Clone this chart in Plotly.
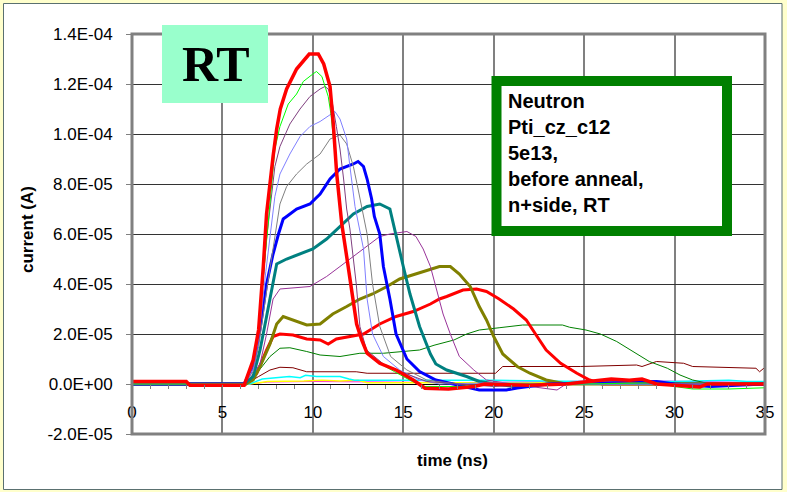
import plotly.graph_objects as go

# ---------------- data (time in ns, current in A) ----------------
t_red1 = [0, 3, 3.2, 6.2, 6.7, 7.0, 7.26, 7.44, 7.8, 8.0, 8.2, 8.55, 9.1, 9.8, 10.3, 10.6, 10.95, 11.13, 11.32,
          11.6, 11.87, 12.15, 12.42, 12.7, 13.0, 13.7, 14.6, 15.55, 16.2, 17.5, 18.9, 19.5, 22, 24, 25.5, 26.5,
          27.5, 28.2, 29, 31.4, 31.8, 33, 35]
i_red1 = [0.1e-5, 0.1e-5, -0.05e-5, -0.05e-5, 0.96e-5, 2.16e-5, 4.7e-5, 6.8e-5, 9.1e-5, 10.2e-5, 11.0e-5, 11.8e-5,
          12.6e-5, 13.2e-5, 13.2e-5, 12.8e-5, 11.9e-5, 10.4e-5, 8.4e-5, 6.4e-5, 5.1e-5, 3.6e-5, 2.4e-5, 1.76e-5,
          1.23e-5, 0.83e-5, 0.56e-5, 0.16e-5, -0.17e-5, -0.2e-5, -0.1e-5, 0.0, -0.05e-5, 0.0, 0.1e-5, 0.2e-5,
          0.15e-5, 0.2e-5, 0.0, -0.12e-5, 0.0, 0.0, 0.0]

t_lime = [0, 6.2, 6.7, 7.0, 7.3, 7.6, 7.9, 8.18, 8.64, 9.1, 9.47, 10.0, 10.2, 10.5, 10.85, 11.0, 11.3, 11.6, 12.0,
          12.4, 12.8, 13.5, 14.5, 15.5, 16.2, 18, 20, 25, 29, 30, 31, 33, 35]
i_lime = [0.0, 0.0, 0.9e-5, 2.1e-5, 4.6e-5, 7.0e-5, 9.4e-5, 10.3e-5, 11.2e-5, 11.6e-5, 12.1e-5, 12.4e-5, 12.5e-5,
          12.3e-5, 11.5e-5, 10.8e-5, 8.5e-5, 6.5e-5, 4.5e-5, 2.5e-5, 1.5e-5, 0.9e-5, 0.5e-5, 0.1e-5, -0.1e-5,
          -0.1e-5, 0.0, 0.0, 0.05e-5, -0.1e-5, -0.2e-5, -0.2e-5, -0.15e-5]

t_plum = [0, 6.2, 6.7, 7.0, 7.44, 7.9, 8.18, 8.73, 9.29, 9.84, 10.4, 10.67, 10.85, 11.04, 11.3, 11.5, 11.7, 11.87,
          12.05, 12.2, 12.4, 12.6, 12.97, 13.9, 15.2, 16.3, 18, 20, 23, 26, 30, 35]
i_plum = [0.0, 0.0, 0.7e-5, 2.0e-5, 5.8e-5, 8.7e-5, 9.5e-5, 10.4e-5, 11.0e-5, 11.5e-5, 11.8e-5, 11.9e-5, 11.8e-5,
          11.4e-5, 10.3e-5, 9.4e-5, 8.2e-5, 7.0e-5, 6.2e-5, 5.2e-5, 4.0e-5, 2.3e-5, 1.36e-5, 0.8e-5, 0.4e-5,
          0.1e-5, 0.0, -0.1e-5, 0.0, 0.1e-5, 0.0, 0.0]

t_lblue = [0, 6.2, 6.7, 7.0, 7.4, 7.9, 8.18, 8.73, 9.29, 9.84, 10.4, 11.0, 11.22, 11.5, 11.87, 12.05, 12.33, 12.8,
           13.0, 13.3, 13.9, 14.8, 15.9, 17, 20, 25, 35]
i_lblue = [0.0, 0.0, 0.6e-5, 1.8e-5, 4.5e-5, 7.5e-5, 8.4e-5, 9.2e-5, 9.9e-5, 10.3e-5, 10.5e-5, 10.8e-5, 10.9e-5,
           10.6e-5, 9.8e-5, 8.7e-5, 7.1e-5, 5.4e-5, 3.4e-5, 2.0e-5, 1.1e-5, 0.56e-5, 0.16e-5, 0.0, 0.05e-5, 0.0, 0.0]

t_gray = [0, 6.2, 6.7, 7.0, 7.5, 8.18, 8.55, 9.1, 9.66, 10.4, 10.95, 11.5, 11.87, 12.24, 12.5, 12.8, 13.0, 13.3,
          13.7, 14.3, 15.2, 16.3, 18, 22, 35]
i_gray = [0.0, 0.0, 0.5e-5, 1.5e-5, 4.0e-5, 7.2e-5, 7.9e-5, 8.4e-5, 8.8e-5, 9.2e-5, 9.8e-5, 9.96e-5, 9.6e-5,
          8.7e-5, 7.8e-5, 6.7e-5, 6.0e-5, 4.0e-5, 2.3e-5, 1.1e-5, 0.56e-5, 0.16e-5, 0.0, 0.0, 0.0]

t_blue = [0, 6.2, 6.7, 7.1, 7.44, 7.8, 8.1, 8.36, 8.55, 9.1, 9.84, 10.4, 10.95, 11.5, 12.24, 12.5, 12.8, 13.0,
          13.25, 13.4, 13.7, 13.9, 14.26, 14.6, 15.2, 15.9, 16.8, 18.3, 19.2, 20.7, 21.3, 23, 26, 29, 30, 32, 35]
i_blue = [0.0, 0.0, 0.7e-5, 2.3e-5, 4.0e-5, 5.2e-5, 6.0e-5, 6.6e-5, 6.7e-5, 7.0e-5, 7.2e-5, 7.6e-5, 8.2e-5,
          8.6e-5, 8.8e-5, 8.9e-5, 8.7e-5, 8.2e-5, 7.4e-5, 6.7e-5, 6.0e-5, 4.7e-5, 3.4e-5, 2.0e-5, 1.0e-5,
          0.5e-5, 0.16e-5, -0.1e-5, -0.24e-5, -0.24e-5, -0.16e-5, 0.0, 0.05e-5, 0.1e-5, 0.0, -0.1e-5, 0.0]

t_teal = [0, 6.2, 6.7, 7.08, 7.44, 7.8, 8.0, 8.55, 9.29, 10.0, 10.76, 11.5, 12.24, 13.0, 13.7, 14.26, 14.6, 15.0,
          15.37, 15.9, 16.5, 16.8, 17.4, 18.5, 19.2, 21.1, 23, 26, 30, 35]
i_teal = [0.0, 0.0, 0.3e-5, 1.36e-5, 2.7e-5, 4.0e-5, 4.8e-5, 5.0e-5, 5.2e-5, 5.4e-5, 5.8e-5, 6.3e-5, 6.8e-5,
          7.1e-5, 7.2e-5, 7.0e-5, 6.0e-5, 4.7e-5, 3.6e-5, 2.3e-5, 1.2e-5, 0.8e-5, 0.56e-5, 0.3e-5, 0.1e-5,
          -0.1e-5, 0.0, 0.05e-5, 0.0, 0.0]

t_purple = [0, 6.3, 7.08, 7.44, 7.8, 8.18, 9.84, 10.76, 11.5, 12.24, 13.0, 13.7, 14.26, 15.2, 15.7, 16.1, 16.5,
            16.8, 17.2, 17.6, 18.1, 18.9, 19.6, 21, 23.5, 24, 26, 30, 35]
i_purple = [0.0, 0.0, 0.8e-5, 2.0e-5, 3.4e-5, 3.8e-5, 3.9e-5, 4.3e-5, 4.7e-5, 5.1e-5, 5.5e-5, 5.9e-5, 6.0e-5,
            6.1e-5, 5.9e-5, 5.4e-5, 4.7e-5, 3.9e-5, 2.8e-5, 2.0e-5, 1.1e-5, 0.56e-5, 0.16e-5, 0.0, -0.24e-5,
            0.0, 0.05e-5, 0.0, 0.0]

t_olive = [0, 6.3, 6.7, 7.08, 7.63, 8.0, 8.36, 8.9, 9.66, 10.4, 11.1, 11.87, 12.6, 13.3, 14.1, 14.8, 15.7, 16.5,
           17.0, 17.6, 18.1, 18.7, 19.2, 19.6, 20.0, 20.5, 21.3, 22.0, 22.9, 24, 27, 30, 35]
i_olive = [0.0, 0.0, 0.16e-5, 0.7e-5, 1.6e-5, 2.4e-5, 2.7e-5, 2.56e-5, 2.36e-5, 2.4e-5, 2.8e-5, 3.1e-5, 3.4e-5,
           3.6e-5, 3.9e-5, 4.2e-5, 4.4e-5, 4.6e-5, 4.7e-5, 4.7e-5, 4.4e-5, 3.9e-5, 3.1e-5, 2.56e-5, 1.9e-5,
           1.2e-5, 0.7e-5, 0.43e-5, 0.16e-5, 0.0, 0.0, 0.0, 0.0]

t_red2 = [0, 6.3, 6.9, 7.44, 7.8, 8.18, 8.9, 9.66, 10.4, 10.85, 11.3, 12.05, 12.8, 13.7, 14.6, 15.55, 16.5, 17.0,
          17.4, 18.3, 19.05, 19.6, 20.3, 21.1, 21.8, 22.4, 22.9, 23.7, 24.6, 25.3, 26, 30, 35]
i_red2 = [0.0, 0.0, 0.43e-5, 1.36e-5, 1.9e-5, 2.0e-5, 1.96e-5, 1.8e-5, 1.76e-5, 1.6e-5, 1.8e-5, 1.9e-5, 2.0e-5,
          2.4e-5, 2.7e-5, 2.9e-5, 3.2e-5, 3.4e-5, 3.5e-5, 3.76e-5, 3.8e-5, 3.7e-5, 3.4e-5, 3.0e-5, 2.56e-5,
          1.9e-5, 1.36e-5, 0.83e-5, 0.43e-5, 0.16e-5, 0.0, 0.0, 0.0]

t_green = [0, 6.3, 6.9, 7.63, 8.18, 8.73, 9.66, 10.4, 11.5, 12.6, 13.9, 14.8, 15.9, 16.7, 17.8, 18.5, 19.2, 20.3,
           21.6, 23.8, 24.2, 25.1, 25.9, 26.8, 27.7, 28.6, 29.6, 30.3, 31.0, 32, 35]
i_green = [0.0, 0.0, 0.43e-5, 1.1e-5, 1.43e-5, 1.45e-5, 1.3e-5, 1.16e-5, 1.1e-5, 1.23e-5, 1.23e-5, 1.3e-5,
           1.36e-5, 1.55e-5, 1.76e-5, 2.0e-5, 2.16e-5, 2.25e-5, 2.36e-5, 2.36e-5, 2.27e-5, 2.16e-5, 2.0e-5,
           1.7e-5, 1.3e-5, 0.9e-5, 0.63e-5, 0.36e-5, 0.16e-5, 0.0, 0.0]

t_maroon = [0, 6.3, 7.0, 7.63, 8.18, 8.9, 9.66, 12.4, 13.0, 20.1, 20.5, 24.8, 27.9, 28.2, 29.0, 30.5, 31.0, 34.5,
            34.7, 35]
i_maroon = [0.0, 0.0, 0.3e-5, 0.56e-5, 0.67e-5, 0.65e-5, 0.49e-5, 0.49e-5, 0.43e-5, 0.43e-5, 0.7e-5, 0.7e-5,
            0.76e-5, 0.7e-5, 0.9e-5, 0.83e-5, 0.7e-5, 0.63e-5, 0.49e-5, 0.67e-5]

t_cyan = [0, 6.5, 7.2, 8.0, 8.7, 9.3, 9.6, 10.2, 11.5, 12.0, 12.3, 14, 20, 25, 30, 33, 34, 35]
i_cyan = [0.0, 0.0, 0.2e-5, 0.25e-5, 0.3e-5, 0.25e-5, 0.35e-5, 0.3e-5, 0.3e-5, 0.2e-5, 0.15e-5, 0.15e-5,
          0.15e-5, 0.1e-5, 0.1e-5, 0.15e-5, 0.1e-5, 0.1e-5]

t_yellow = [0, 6.5, 7.5, 8.5, 9.5, 10.5, 11.5, 12.5, 13, 20, 26, 35]
i_yellow = [0.0, 0.0, 0.1e-5, 0.1e-5, 0.12e-5, 0.15e-5, 0.12e-5, 0.15e-5, 0.05e-5, 0.05e-5, 0.05e-5, 0.05e-5]

t_magenta = [0, 6.5, 7.5, 10, 14, 18, 24, 27, 35]
i_magenta = [0.0, 0.0, 0.08e-5, 0.1e-5, 0.08e-5, 0.05e-5, 0.1e-5, 0.15e-5, 0.05e-5]

y_tickvals = [-2e-5, 0, 2e-5, 4e-5, 6e-5, 8e-5, 10e-5, 12e-5, 14e-5]
y_ticktext = ["-2.0E-05", "0.0E+00", "2.0E-05", "4.0E-05", "6.0E-05", "8.0E-05", "1.0E-04", "1.2E-04", "1.4E-04"]
x_tickvals = [0, 5, 10, 15, 20, 25, 30, 35]

# ---------------- figure ----------------
series = [
    (t_magenta, i_magenta, "#FF00FF", 1),
    (t_yellow, i_yellow, "#FFFF00", 1.5),
    (t_cyan, i_cyan, "#00FFFF", 1.5),
    (t_maroon, i_maroon, "#800000", 1),
    (t_green, i_green, "#008000", 1),
    (t_red2, i_red2, "#FF0000", 3),
    (t_olive, i_olive, "#808000", 3),
    (t_purple, i_purple, "#993399", 1),
    (t_teal, i_teal, "#008080", 3),
    (t_blue, i_blue, "#0000FF", 3),
    (t_gray, i_gray, "#808080", 1),
    (t_lblue, i_lblue, "#8080FF", 1),
    (t_plum, i_plum, "#7F3F7F", 1),
    (t_lime, i_lime, "#00FF00", 1),
    (t_red1, i_red1, "#FF0000", 3.5),
]

fig = go.Figure()
for tx, iy, col, w in series:
    fig.add_trace(go.Scatter(x=tx, y=iy, mode="lines", line=dict(color=col, width=w),
                             showlegend=False, hoverinfo="skip"))

W, H = 787, 492
L, R, T, B = 132, 22, 34, 58
pw, ph = W - L - R, H - T - B


def px(xp):
    return (xp - L) / pw


def py(yp):
    return (H - B - yp) / ph


fig.update_layout(
    width=W, height=H,
    margin=dict(l=L, r=R, t=T, b=B, pad=0),
    paper_bgcolor="#FFFFCC",
    plot_bgcolor="#FFFFFF",
    font=dict(family="Liberation Sans, Arial, sans-serif", size=17, color="#000000"),
    xaxis=dict(range=[0, 35], tickvals=x_tickvals, ticktext=[str(v) for v in x_tickvals],
               anchor="free", position=2e-5 / 16e-5,
               showline=False, zeroline=False,
               showgrid=True, gridcolor="#808080", gridwidth=1.5,
               ticks="outside", ticklen=4, tickcolor="#808080",
               ticklabelstandoff=9,
               minor=dict(dtick=1, ticks="outside", ticklen=4, tickcolor="#808080", showgrid=False),
               tickfont=dict(size=17)),
    yaxis=dict(range=[-2e-5, 14e-5], tickvals=y_tickvals, ticktext=y_ticktext,
               showline=False, zeroline=True, zerolinecolor="#000000", zerolinewidth=1,
               showgrid=True, gridcolor="#333333", gridwidth=1,
               ticks="outside", ticklen=5, tickcolor="#808080",
               ticklabelstandoff=10,
               tickfont=dict(size=17)),
)

shapes = [
    # white chart area on pale-yellow page
    dict(type="rect", xref="paper", yref="paper", x0=px(3.5), x1=px(782), y0=py(489.5), y1=py(3.5),
         fillcolor="#FFFFFF", line=dict(color="#5A7070", width=1), layer="below"),
    # plot-area border
    dict(type="rect", xref="paper", yref="paper", x0=0, x1=1, y0=0, y1=1,
         line=dict(color="#808080", width=3), layer="above"),
    # RT box
    dict(type="rect", xref="paper", yref="paper", x0=px(162), x1=px(268), y0=py(103), y1=py(25),
         fillcolor="#99FFCC", line=dict(width=0), layer="above"),
    # info box
    dict(type="rect", xref="paper", yref="paper", x0=px(496.5), x1=px(727), y0=py(231), y1=py(81),
         fillcolor="#FFFFFF", line=dict(color="#008000", width=10), layer="above"),
]
fig.update_layout(shapes=shapes)

annotations = [
    dict(text="<b>RT</b>", xref="paper", yref="paper", x=px(215.5), y=py(64), xanchor="center",
         yanchor="middle", showarrow=False,
         font=dict(family="Liberation Serif, Times New Roman, serif", size=50, color="#000000")),
    dict(text="<b>Neutron<br>Pti_cz_c12<br>5e13,<br>before anneal,<br>n+side, RT</b>",
         xref="paper", yref="paper", x=px(506), y=py(153), xanchor="left", yanchor="middle",
         align="left", showarrow=False,
         font=dict(family="Liberation Sans, Arial, sans-serif", size=20, color="#000000")),
    dict(text="<b>time (ns)</b>", xref="paper", yref="paper", x=px(452), y=py(460),
         xanchor="center", yanchor="middle", showarrow=False,
         font=dict(family="Liberation Sans, Arial, sans-serif", size=17, color="#000000")),
    dict(text="<b>current (A)</b>", xref="paper", yref="paper", x=px(27), y=py(230),
         xanchor="center", yanchor="middle", textangle=-90, showarrow=False,
         font=dict(family="Liberation Sans, Arial, sans-serif", size=17, color="#000000")),
]
fig.update_layout(annotations=annotations)

fig.write_html("out.html")
